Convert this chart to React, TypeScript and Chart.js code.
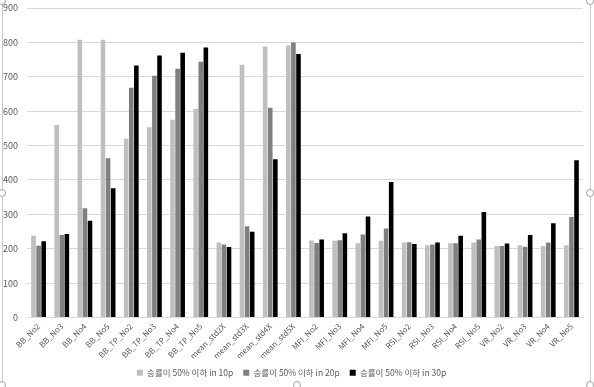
import React, { useEffect, useRef } from "react";
import { Chart, registerables } from "chart.js";

Chart.register(...registerables);

const categories = [
  "BB_No2", "BB_No3", "BB_No4", "BB_No5",
  "BB_TP_No2", "BB_TP_No3", "BB_TP_No4", "BB_TP_No5",
  "mean_std2X", "mean_std3X", "mean_std4X", "mean_std5X",
  "MFI_No2", "MFI_No3", "MFI_No4", "MFI_No5",
  "RSI_No2", "RSI_No3", "RSI_No4", "RSI_No5",
  "VR_No2", "VR_No3", "VR_No4", "VR_No5",
];

const series10p = [
  238, 560, 808, 808,
  520, 553, 575, 606,
  218, 735, 788, 791,
  224, 223, 216, 223,
  218, 210, 216, 218,
  208, 210, 208, 210,
];

const series20p = [
  209, 240, 318, 463,
  668, 703, 723, 744,
  212, 265, 610, 800,
  217, 225, 241, 259,
  219, 212, 216, 227,
  208, 206, 218, 292,
];

const series30p = [
  222, 243, 281, 376,
  733, 762, 770, 785,
  205, 249, 460, 766,
  227, 245, 294, 394,
  214, 218, 238, 307,
  215, 240, 274, 457,
];

const seriesLabels = [
  "승률이 50% 이하 in 10p",
  "승률이 50% 이하 in 20p",
  "승률이 50% 이하 in 30p",
];

const FONT = "'Noto Sans CJK KR', 'Noto Sans', sans-serif";

const framePlugin = {
  id: "frame",
  afterDraw(chart: any) {
    const ctx = chart.ctx;
    const w = chart.width;
    const h = chart.height;
    ctx.save();
    ctx.strokeStyle = "#c8c8c8";
    ctx.lineWidth = 1;
    ctx.beginPath();
    ctx.moveTo(2.5, 0);
    ctx.lineTo(2.5, h);
    ctx.moveTo(w - 3.5, 0);
    ctx.lineTo(w - 3.5, h);
    ctx.stroke();
    const handles = [
      [2, 1], [w - 4, 1], [2, 193], [w - 4, 193], [w / 2, h - 2], [2, h - 2], [w - 4, h - 2],
    ];
    ctx.fillStyle = "#ffffff";
    ctx.strokeStyle = "#a0a0a0";
    for (const [x, y] of handles) {
      ctx.beginPath();
      ctx.arc(x, y, 3.5, 0, Math.PI * 2);
      ctx.fill();
      ctx.stroke();
    }
    ctx.restore();
  },
};

export default function App() {
  const ref = useRef<HTMLCanvasElement>(null);

  useEffect(() => {
    document.body.style.margin = "0";
    const canvas = ref.current;
    if (!canvas) return;
    const chart = new Chart(canvas, {
      type: "bar",
      data: {
        labels: categories,
        datasets: [
          { label: seriesLabels[0], data: series10p, backgroundColor: "#bfbfbf" },
          { label: seriesLabels[1], data: series20p, backgroundColor: "#7f7f7f" },
          { label: seriesLabels[2], data: series30p, backgroundColor: "#000000" },
        ],
      },
      options: {
        animation: false,
        responsive: false,
        maintainAspectRatio: false,
        datasets: {
          bar: { categoryPercentage: 0.66, barPercentage: 0.9 },
        },
        layout: { padding: { top: 8, right: 11, left: 0, bottom: 0 } },
        plugins: {
          legend: {
            position: "bottom",
            labels: {
              boxWidth: 6,
              boxHeight: 6,
              padding: 10,
              color: "#595959",
              font: { family: FONT, size: 8.5 },
            },
          },
          tooltip: { enabled: false },
        },
        scales: {
          x: {
            grid: { display: false, drawTicks: false },
            border: { color: "#d9d9d9" },
            afterFit(scale: any) {
              scale.height = 41;
              scale.paddingLeft = 0;
              scale.paddingRight = 0;
            },
            ticks: {
              minRotation: 45,
              maxRotation: 45,
              autoSkip: false,
              color: "#595959",
              padding: 4,
              font: { family: FONT, size: 8 },
            },
          },
          y: {
            min: 0,
            max: 900,
            afterFit(scale: any) {
              scale.width = 27;
              scale.paddingTop = 0;
              scale.paddingBottom = 0;
            },
            ticks: {
              stepSize: 100,
              color: "#595959",
              padding: 9,
              font: { family: FONT, size: 9 },
            },
            grid: { color: "#d9d9d9", drawTicks: false },
            border: { display: false },
          },
        },
      },
      plugins: [framePlugin],
    });
    return () => chart.destroy();
  }, []);

  return (
    <div style={{ width: 594, height: 387, background: "#fff" }}>
      <canvas ref={ref} width={594} height={387} style={{ display: "block" }} />
    </div>
  );
}
